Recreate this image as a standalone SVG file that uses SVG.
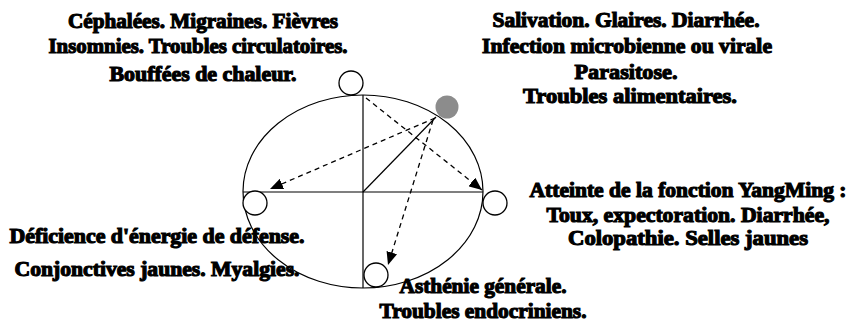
<svg xmlns="http://www.w3.org/2000/svg" width="851" height="324" viewBox="0 0 851 324">
<style>
.t{font-family:"Liberation Serif","Times New Roman",serif;font-weight:bold;font-size:20px;fill:#000;stroke:#000;stroke-width:1.1;text-anchor:middle}
.ln{stroke:#000;stroke-width:1.2;fill:none}
.da{stroke:#000;stroke-width:1.3;fill:none;stroke-dasharray:5 4;marker-end:url(#ah)}
.oc{fill:#fff;stroke:#000;stroke-width:1.3}
</style>
<defs>
<marker id="ah" viewBox="0 0 13 11" refX="13" refY="5.5" markerWidth="13" markerHeight="11" markerUnits="userSpaceOnUse" orient="auto">
<path d="M0,0 L13,5.5 L0,11 Z" fill="#000"/>
</marker>
</defs>
<g id="frame">
<ellipse class="ln" cx="363" cy="191.5" rx="120" ry="96.5"/>
<line class="ln" x1="363" y1="95" x2="363" y2="288"/>
<line class="ln" x1="243" y1="192" x2="483" y2="192"/>
</g>
<g id="connectors">
<line class="ln" x1="363" y1="192" x2="436" y2="117"/>
<line class="da" x1="435" y1="118" x2="270" y2="189"/>
<line class="da" x1="366" y1="98" x2="482" y2="190"/>
<line class="da" x1="433" y1="120" x2="388" y2="265"/>
</g>
<g id="node-top"><circle class="oc" cx="351" cy="83" r="12"/></g>
<g id="node-gray"><circle cx="447" cy="107" r="11.5" fill="#8c8c8c"/></g>
<g id="node-right"><circle class="oc" cx="495" cy="203" r="12"/></g>
<g id="node-left"><circle class="oc" cx="255" cy="203" r="12"/></g>
<g id="node-bottom"><circle class="oc" cx="376" cy="275" r="12"/></g>
<g id="label-top-left">
<text class="t" x="203" y="28" textLength="270" lengthAdjust="spacingAndGlyphs">Céphalées. Migraines. Fièvres</text>
<text class="t" x="198" y="53" textLength="299" lengthAdjust="spacingAndGlyphs">Insomnies. Troubles circulatoires.</text>
<text class="t" x="203" y="81" textLength="187" lengthAdjust="spacingAndGlyphs">Bouffées de chaleur.</text>
</g>
<g id="label-top-right">
<text class="t" x="626" y="27" textLength="267" lengthAdjust="spacingAndGlyphs">Salivation. Glaires. Diarrhée.</text>
<text class="t" x="627" y="53" textLength="290" lengthAdjust="spacingAndGlyphs">Infection microbienne ou virale</text>
<text class="t" x="626" y="79" textLength="103" lengthAdjust="spacingAndGlyphs">Parasitose.</text>
<text class="t" x="630" y="103" textLength="214" lengthAdjust="spacingAndGlyphs">Troubles alimentaires.</text>
</g>
<g id="label-right">
<text class="t" x="688" y="197" textLength="317" lengthAdjust="spacingAndGlyphs">Atteinte de la fonction YangMing :</text>
<text class="t" x="688" y="222" textLength="283" lengthAdjust="spacingAndGlyphs">Toux, expectoration. Diarrhée,</text>
<text class="t" x="688" y="245" textLength="240" lengthAdjust="spacingAndGlyphs">Colopathie. Selles jaunes</text>
</g>
<g id="label-left">
<text class="t" x="157" y="243" textLength="295" lengthAdjust="spacingAndGlyphs">Déficience d'énergie de défense.</text>
<text class="t" x="157" y="276" textLength="285" lengthAdjust="spacingAndGlyphs">Conjonctives jaunes. Myalgies.</text>
</g>
<g id="label-bottom">
<text class="t" x="483" y="293" textLength="167" lengthAdjust="spacingAndGlyphs">Asthénie générale.</text>
<text class="t" x="483" y="318" textLength="207" lengthAdjust="spacingAndGlyphs">Troubles endocriniens.</text>
</g>
</svg>
